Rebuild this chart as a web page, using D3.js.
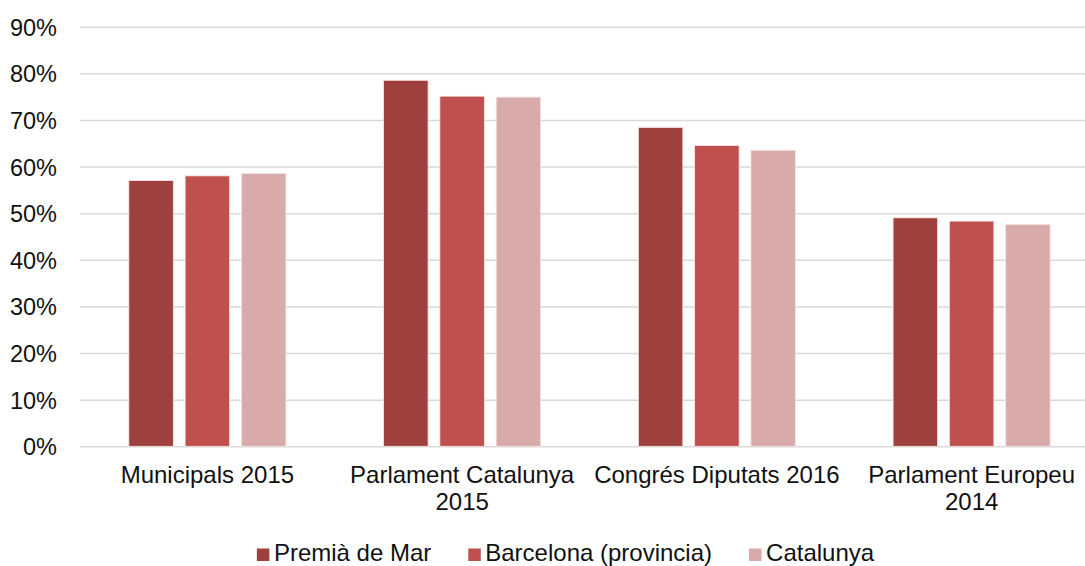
<!DOCTYPE html>
<html>
<head>
<meta charset="utf-8">
<script src="https://cdn.jsdelivr.net/npm/d3@7"></script>
<style>
  html, body { margin: 0; padding: 0; background: #fff; }
  svg { display: block; font-family: "Liberation Sans", Arial, sans-serif; }
</style>
</head>
<body>
<svg id="chart" width="1085" height="566"></svg>
<script>
const categories = ["Municipals 2015", "Parlament Catalunya 2015", "Congrés Diputats 2016", "Parlament Europeu 2014"];
const seriesNames = ["Premià de Mar", "Barcelona (provincia)", "Catalunya"];
const premia = [0.570, 0.785, 0.684, 0.490];
const barcelona = [0.580, 0.751, 0.645, 0.483];
const catalunya = [0.585, 0.749, 0.635, 0.476];
const yTicks = [0, 0.1, 0.2, 0.3, 0.4, 0.5, 0.6, 0.7, 0.8, 0.9];
const colors = ["#9E403E", "#C0504D", "#D9AAAA"];

const seriesValues = [premia, barcelona, catalunya];

const svg = d3.select("#chart");
const W = 1085, H = 566;
const plotLeft = 80, plotRight = 1099;

const y = d3.scaleLinear().domain([0, 0.9]).range([446.3, 26.7]);
const x0 = d3.scaleBand().domain(categories).range([plotLeft, plotRight])
  .paddingInner(0.337).paddingOuter(0.1685);
const x1 = d3.scaleBand().domain(seriesNames).range([0, x0.bandwidth()])
  .paddingInner(0.21).paddingOuter(0.105);
const color = d3.scaleOrdinal().domain(seriesNames).range(colors);

// gridlines
const yAxis = d3.axisLeft(y).tickValues(yTicks).tickFormat(d3.format(".0%")).tickSize(-(W - plotLeft)).tickPadding(23);
const gy = svg.append("g").attr("transform", `translate(${plotLeft},0)`).call(yAxis);
gy.select(".domain").remove();
gy.selectAll(".tick line").attr("stroke", "#D9D9D9").attr("stroke-width", 1.5);
gy.selectAll(".tick text").attr("font-size", 23.5).attr("fill", "#111")
  .attr("font-family", "'Liberation Sans', Arial, sans-serif").attr("dy", "0.36em");

// bars
const groups = svg.append("g").selectAll("g").data(categories).join("g")
  .attr("transform", d => `translate(${x0(d)},0)`);
groups.selectAll("rect")
  .data((c, i) => seriesNames.map((s, j) => ({ s, v: seriesValues[j][i] })))
  .join("rect")
  .attr("x", d => x1(d.s))
  .attr("width", x1.bandwidth())
  .attr("y", d => y(d.v))
  .attr("height", d => y(0) - y(d.v))
  .attr("fill", d => color(d.s))
  .attr("stroke", "#F6E4E4")
  .attr("stroke-width", 0.8);

// x axis labels with wrap
const xAxis = d3.axisBottom(x0).tickSize(0).tickPadding(0);
const gx = svg.append("g").attr("transform", `translate(0,${y(0)})`).call(xAxis);
gx.select(".domain").remove();
gx.selectAll(".tick text").attr("font-size", 24).attr("fill", "#111")
  .attr("font-family", "'Liberation Sans', Arial, sans-serif")
  .attr("y", 0).attr("dy", null)
  .each(function(d) {
    const t = d3.select(this);
    const words = d.split(" ");
    t.text(null);
    const maxW = x0.step() - 4;
    let lines = [], line = [];
    let tsp = t.append("tspan");
    for (const w of words) {
      line.push(w);
      tsp.text(line.join(" "));
      if (tsp.node().getComputedTextLength() > maxW && line.length > 1) {
        line.pop();
        lines.push(line.join(" "));
        line = [w];
      }
    }
    lines.push(line.join(" "));
    t.text(null);
    lines.forEach((l, i) => {
      t.append("tspan").attr("x", 0).attr("y", 37 + i * 27).text(l);
    });
  });

// legend
const legend = svg.append("g");
const items = legend.selectAll("g").data(seriesNames).join("g");
items.append("rect").attr("width", 12.5).attr("height", 12.5).attr("y", -12.5)
  .attr("fill", d => color(d));
items.append("text").attr("x", 17).attr("y", 0).attr("font-size", 24).attr("fill", "#111")
  .text(d => d);
let cx = 0;
items.each(function() {
  const g = d3.select(this);
  g.attr("transform", `translate(${cx},0)`);
  cx += 17 + g.select("text").node().getComputedTextLength() + 37;
});
const totalW = cx - 37;
legend.attr("transform", `translate(${565.5 - totalW / 2},561)`);
</script>
</body>
</html>
